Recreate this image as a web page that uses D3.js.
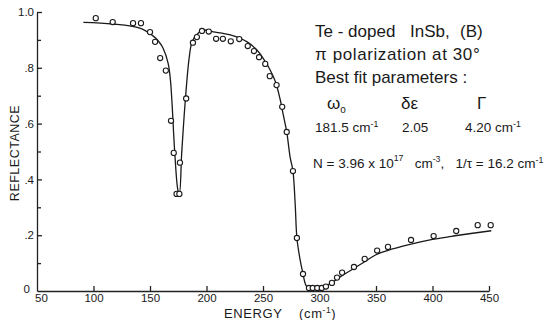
<!DOCTYPE html>
<html>
<head>
<meta charset="utf-8">
<script src="https://cdn.jsdelivr.net/npm/d3@7"></script>
<style>
  body { margin: 0; background: #fff; }
  svg { display: block; font-family: "Liberation Sans", Arial, sans-serif; }
  text { fill: #1a1a1a; }
</style>
</head>
<body>
<svg id="chart" width="547" height="320"></svg>
<script>
// measured points (energy in cm-1, reflectance)
const measE = [102, 117, 135, 142, 150, 154.5, 159, 164, 168.6, 171, 173.5, 176, 176.5, 182,
  188, 191.5, 196, 202, 208.5, 214.5, 221.5, 229, 236.5, 242, 246.5, 252, 256, 262, 267, 271,
  276.5, 280, 285.4, 290.7, 294, 298, 302, 305.7, 311, 315.5, 320, 330.5, 340, 351, 360.6,
  381, 401, 421, 440, 451.5];
const measR = [0.978, 0.964, 0.960, 0.960, 0.928, 0.893, 0.835, 0.790, 0.610, 0.495, 0.348, 0.348, 0.460, 0.690,
  0.890, 0.910, 0.932, 0.930, 0.904, 0.904, 0.895, 0.903, 0.878, 0.860, 0.838, 0.814, 0.770, 0.738, 0.660, 0.570,
  0.430, 0.190, 0.061, 0.011, 0.011, 0.011, 0.011, 0.016, 0.029, 0.048, 0.066, 0.086, 0.115, 0.145, 0.158,
  0.183, 0.197, 0.215, 0.236, 0.236];

// best-fit curve
const fitE = [91, 117, 141, 151.5, 157, 161.5, 166, 168, 169.5, 172, 174.8, 176, 178, 181, 184.5, 187,
  191, 197, 206, 221, 236, 245, 250, 256, 261, 265, 268, 271, 274, 276.5, 278.5, 280, 282.5, 285.4,
  287.5, 290, 293, 297, 302, 309, 320, 330, 340, 350, 360, 380, 400, 420, 452];
const fitR = [0.963, 0.957, 0.942, 0.918, 0.898, 0.871, 0.817, 0.76, 0.673, 0.49, 0.36, 0.35, 0.49, 0.67, 0.83, 0.89,
  0.918, 0.935, 0.929, 0.918, 0.893, 0.862, 0.835, 0.795, 0.75, 0.69, 0.63, 0.57, 0.48, 0.43, 0.31, 0.19, 0.12, 0.061,
  0.025, 0.007, 0.004, 0.008, 0.015, 0.025, 0.055, 0.08, 0.105, 0.13, 0.145, 0.167, 0.185, 0.198, 0.216];

const xTicks = [50, 100, 150, 200, 250, 300, 350, 400, 450];
const yTicks = [0, 0.2, 0.4, 0.6, 0.8, 1.0];
const yTickLabels = ['0', '.2', '.4', '.6', '.8', '1.0'];
const yMinor = [0.1, 0.3, 0.5, 0.7, 0.9];

const svg = d3.select('#chart');
const x = d3.scaleLinear().domain([50, 450]).range([37, 489]);
const y = d3.scaleLinear().domain([0, 1]).range([291, 12]);

// axes
const xAxis = svg.append('g')
  .attr('transform', `translate(0,${y(0)})`)
  .call(d3.axisBottom(x).tickValues(xTicks).tickSizeInner(-5).tickSizeOuter(0).tickPadding(3));
xAxis.selectAll('text').attr('font-size', 11.5).attr('font-family', 'Liberation Sans, sans-serif');

const yAxis = svg.append('g')
  .attr('transform', `translate(${x(50)},0)`)
  .call(d3.axisLeft(y).tickValues(yTicks).tickFormat((d, i) => yTickLabels[i])
    .tickSizeInner(-5).tickSizeOuter(0).tickPadding(3));
yAxis.selectAll('text').attr('font-size', 11.5).attr('font-family', 'Liberation Sans, sans-serif');

svg.append('g')
  .attr('transform', `translate(${x(50)},0)`)
  .call(d3.axisLeft(y).tickValues(yMinor).tickFormat('').tickSizeInner(-4).tickSizeOuter(0))
  .call(g => g.select('.domain').remove());

svg.selectAll('.domain, .tick line').attr('stroke', '#222').attr('stroke-width', 1.3);
// origin labels: "0" up-left, "50" just right
xAxis.selectAll('.tick').filter(d => d === 50)
  .call(t => t.select('line').remove())
  .select('text').attr('x', 4);
yAxis.selectAll('.tick').filter(d => d === 0)
  .call(t => t.select('line').remove())
  .select('text').attr('x', -7).attr('dy', '0.1em');

// axis titles
svg.append('text')
  .attr('transform', `translate(19,153) rotate(-90)`)
  .attr('text-anchor', 'middle')
  .attr('font-size', 12.5)
  .attr('letter-spacing', 0.5)
  .text('REFLECTANCE');

const xt = svg.append('text')
  .attr('x', 224).attr('y', 318)
  .attr('font-size', 13)
  .attr('letter-spacing', 0.6)
  .style('white-space', 'pre');
xt.append('tspan').text('ENERGY    (cm');
xt.append('tspan').attr('dy', -5).attr('font-size', 8.5).text('-1');
xt.append('tspan').attr('dy', 5).text(')');

// fit curve
const line = d3.line()
  .x(i => x(fitE[i]))
  .y(i => y(fitR[i]))
  .curve(d3.curveCatmullRom.alpha(0.5));
svg.append('path')
  .attr('d', line(d3.range(fitE.length)))
  .attr('fill', 'none')
  .attr('stroke', '#1a1a1a')
  .attr('stroke-width', 1.3);

// data circles
svg.append('g').selectAll('circle')
  .data(d3.range(measE.length))
  .enter()
  .append('circle')
  .attr('cx', i => x(measE[i]))
  .attr('cy', i => y(measR[i]))
  .attr('r', 2.6)
  .attr('fill', '#fff')
  .attr('stroke', '#1a1a1a')
  .attr('stroke-width', 1.1);

// annotation block
const note = svg.append('g').attr('font-size', 17);
note.append('text').attr('x', 315).attr('y', 37).text('Te - doped');
note.append('text').attr('x', 410).attr('y', 37).text('InSb,');
note.append('text').attr('x', 460).attr('y', 37).text('(B)');
note.append('text').attr('x', 315).attr('y', 60).attr('letter-spacing', 0.6).text('\u03c0 polarization at 30\u00b0');
note.append('text').attr('x', 315).attr('y', 83).text('Best fit parameters :');

const w = note.append('text').attr('x', 327).attr('y', 109);
w.append('tspan').text('\u03c9');
w.append('tspan').attr('font-size', 10).attr('dy', 4).text('o');
note.append('text').attr('x', 401).attr('y', 109).text('\u03b4\u03b5');
note.append('text').attr('x', 477).attr('y', 109).text('\u0393');

// text with raised parts: [string, raised?]
function withSup(xPos, yPos, size, parts) {
  const t = svg.append('text').attr('x', xPos).attr('y', yPos).attr('font-size', size)
    .style('white-space', 'pre');
  let up = 0;
  parts.forEach(([s, lift]) => {
    const shift = (lift || 0) - up;
    const ts = t.append('tspan').text(s).attr('dy', shift);
    if (lift) ts.attr('font-size', size * 0.65);
    up = lift || 0;
  });
  return t;
}
withSup(315, 132, 13.5, [['181.5 cm'], ['-1', -5]]);
withSup(402, 132, 13.5, [['2.05']]);
withSup(465, 132, 13.5, [['4.20 cm'], ['-1', -5]]);
withSup(313, 168, 13.5, [['N = 3.96 x 10'], ['17', -7], ['   cm'], ['-3', -6], [',   1/\u03c4 = 16.2 cm'], ['-1', -5]]);
</script>
</body>
</html>
